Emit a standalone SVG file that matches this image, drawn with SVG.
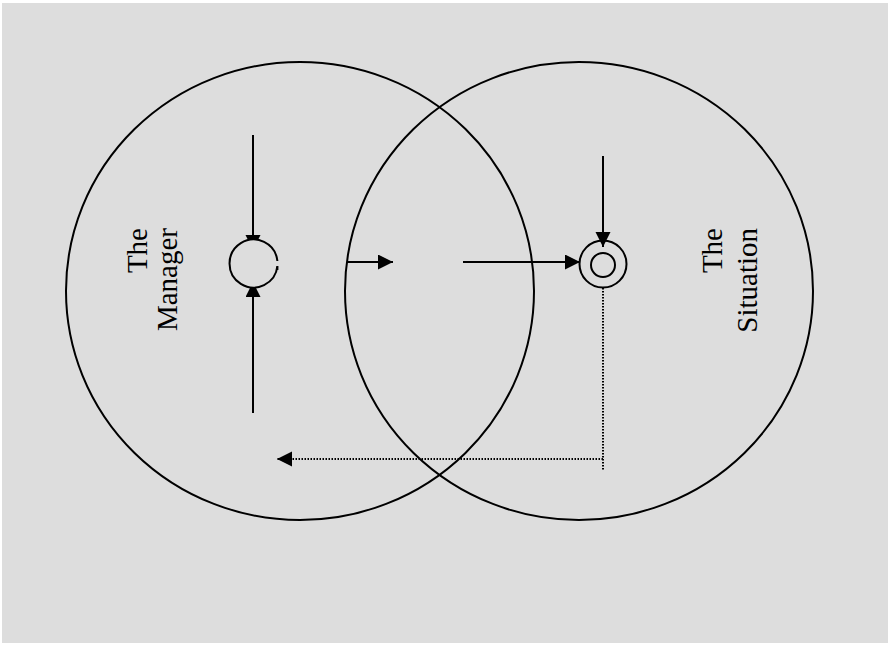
<svg xmlns="http://www.w3.org/2000/svg" width="890" height="647" viewBox="0 0 890 647">
<style>
.ln{stroke:#000;stroke-width:2;fill:none}
.dot{stroke:#000;stroke-width:2;fill:none;stroke-dasharray:1.5 1.5}
.ah{fill:#000;stroke:none}
.lbl{font-family:"Liberation Serif","Times New Roman",serif;font-size:29px;fill:#000;text-anchor:end}
</style>
<defs>
<marker id="arr" markerUnits="userSpaceOnUse" markerWidth="17" markerHeight="17" refX="15" refY="7.5" orient="auto" viewBox="0 0 17 17">
<path class="ah" d="M0,0 L15,7.5 L0,15 z"/>
</marker>
</defs>
<rect x="2" y="3" width="886" height="640" fill="#dddddd"/>
<g id="manager">
<ellipse class="ln" cx="300" cy="291" rx="234" ry="229"/>
<text class="lbl" transform="translate(147,228) rotate(-90)">The</text>
<text class="lbl" transform="translate(177,228) rotate(-90)">Manager</text>
</g>
<g id="situation">
<ellipse class="ln" cx="579" cy="291" rx="234" ry="229"/>
<text class="lbl" transform="translate(722,228) rotate(-90)">The</text>
<text class="lbl" transform="translate(757,228) rotate(-90)">Situation</text>
</g>
<g id="connectors">
<line class="ln" x1="253" y1="135" x2="253" y2="250" marker-end="url(#arr)"/>
<line class="ln" x1="253" y1="413" x2="253" y2="282" marker-end="url(#arr)"/>
<line class="ln" x1="347" y1="262" x2="393" y2="262" marker-end="url(#arr)"/>
<line class="ln" x1="463" y1="262" x2="580" y2="262" marker-end="url(#arr)"/>
<line class="ln" x1="603" y1="156" x2="603" y2="247" marker-end="url(#arr)"/>
<polyline class="dot" points="603,288 603,470"/>
<line class="dot" x1="603" y1="459" x2="277" y2="459" marker-end="url(#arr)"/>
</g>
<g id="manager-node">
<path class="ln" d="M277.4,261 A24,24 0 1 0 277.4,266" style="fill:#dddddd"/>
<path class="ln" d="M277.4,266.5 L277.4,270"/>
</g>
<g id="situation-node">
<circle class="ln" cx="603" cy="264" r="23.5"/>
<circle class="ln" cx="603" cy="265" r="12"/>
</g>
</svg>
